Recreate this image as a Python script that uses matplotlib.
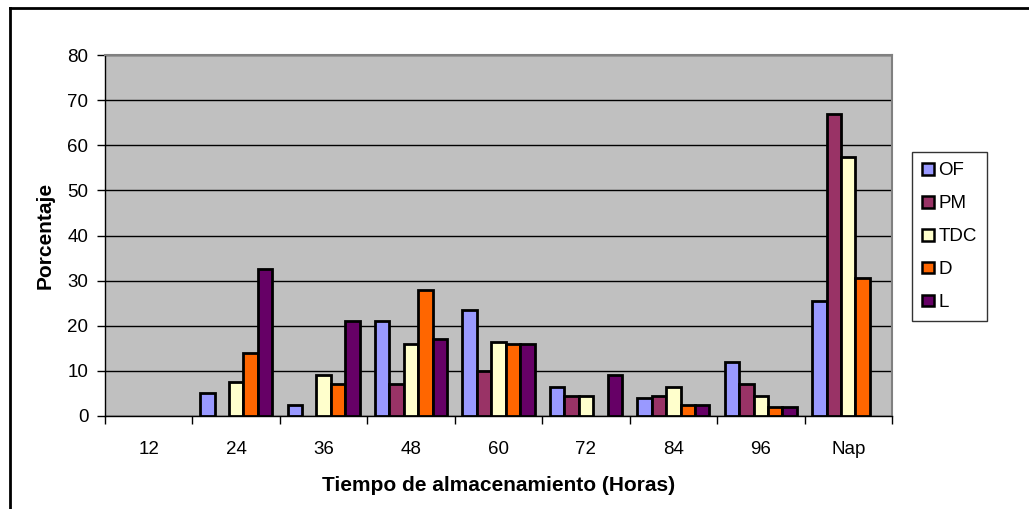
import numpy as np
import matplotlib
matplotlib.use("Agg")
import matplotlib.pyplot as plt
from matplotlib.lines import Line2D

plt.rcParams['font.family'] = ['Liberation Sans', 'DejaVu Sans']

categories = ['12', '24', '36', '48', '60', '72', '84', '96', 'Nap']
series_names = ['OF', 'PM', 'TDC', 'D', 'L']
of_vals = [0, 5, 2.5, 21, 23.5, 6.5, 4, 12, 25.5]
pm_vals = [0, 0, 0, 7, 10, 4.5, 4.5, 7, 67]
tdc_vals = [0, 7.5, 9, 16, 16.5, 4.5, 6.5, 4.5, 57.5]
d_vals = [0, 14, 7, 28, 16, 0, 2.5, 2, 30.5]
l_vals = [0, 32.5, 21, 17, 16, 9, 2.5, 2, 0]
colors = ['#9999FF', '#993366', '#FFFFCC', '#FF6600', '#660066']

W, H = 1029, 509
fig = plt.figure(figsize=(W / 100, H / 100), dpi=100)
ax = fig.add_axes([105 / W, 1 - 416 / H, (892 - 105) / W, (416 - 55) / H])
ax.set_facecolor('#C0C0C0')

x = np.arange(len(categories))
bw = 0.165
all_vals = [of_vals, pm_vals, tdc_vals, d_vals, l_vals]
for i, (name, vals, c) in enumerate(zip(series_names, all_vals, colors)):
    pos = x + (i - 2) * bw
    # zero-height bars are not drawn in the original
    v = np.array(vals, dtype=float)
    m = v > 0
    ax.bar(pos[m], v[m], width=bw, color=c, edgecolor='black', linewidth=2,
           zorder=3)
    ax.bar([np.nan], [0], width=bw, color=c, edgecolor='black', linewidth=1.8,
           label=name)

ax.set_xlim(-0.5, len(categories) - 0.5)
ax.set_ylim(0, 80)
ax.set_yticks(np.arange(0, 81, 10))
ax.yaxis.grid(True, color='black', linewidth=1)
ax.set_axisbelow(True)

ax.set_xticks(x)
ax.set_xticklabels(categories)
ax.set_xticks(np.arange(-0.5, len(categories), 1), minor=True)
ax.tick_params(axis='x', which='major', length=0, pad=18, labelsize=13.5)
ax.tick_params(axis='x', which='minor', length=6, width=1, direction='out')
ax.tick_params(axis='y', length=6, width=1, direction='out', labelsize=13.5, pad=6)

for s in ['top', 'right']:
    ax.spines[s].set_color('#808080')
    ax.spines[s].set_linewidth(1.5)
for s in ['left', 'bottom']:
    ax.spines[s].set_color('black')
    ax.spines[s].set_linewidth(1)

ax.set_xlabel('Tiempo de almacenamiento (Horas)', fontsize=15,
              fontweight='bold', labelpad=13)
ax.set_ylabel('Porcentaje', fontsize=15, fontweight='bold', labelpad=9)

leg = fig.legend(loc='upper left', bbox_to_anchor=(912 / W, 1 - 152 / H),
                 fontsize=13.5, frameon=True, fancybox=False, handlelength=0.6,
                 handleheight=0.6, handletextpad=0.25, labelspacing=0.85,
                 borderpad=0.55, borderaxespad=0)
leg.get_frame().set_edgecolor('black')
leg.get_frame().set_linewidth(1)

# outer chart border (left and top edges visible)
fig.add_artist(Line2D([9.5 / W, 9.5 / W], [0, 1 - 7.5 / H],
                      transform=fig.transFigure, color='black', linewidth=2))
fig.add_artist(Line2D([9.5 / W, 1], [1 - 7.5 / H, 1 - 7.5 / H],
                      transform=fig.transFigure, color='black', linewidth=2))

fig.savefig('out.png', dpi=100)
